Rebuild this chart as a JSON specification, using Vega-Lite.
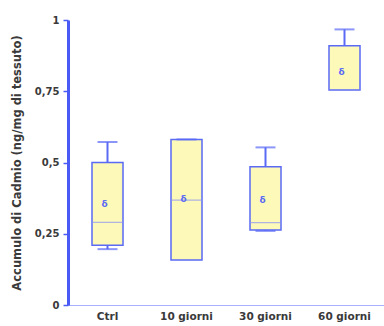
{
  "$schema": "https://vega.github.io/schema/vega-lite/v6.json",
  "width": 316,
  "height": 285,
  "autosize": "none",
  "padding": {"left": 68, "top": 20, "right": 0, "bottom": 21},
  "background": "white",
  "config": {"view": {"stroke": null}, "font": "DejaVu Sans"},
  "data": {"values": [
    {"gruppo": "Ctrl", "min": 0.196, "q1": 0.21, "median": 0.29, "q3": 0.5, "max": 0.572, "mean": 0.354},
    {"gruppo": "10 giorni", "min": null, "q1": 0.158, "median": 0.368, "q3": 0.581, "max": 0.581, "mean": 0.372},
    {"gruppo": "30 giorni", "min": 0.26, "q1": 0.263, "median": 0.289, "q3": 0.485, "max": 0.553, "mean": 0.368},
    {"gruppo": "60 giorni", "min": null, "q1": 0.754, "median": 0.754, "q3": 0.91, "max": 0.967, "mean": 0.819}
  ]},
  "encoding": {
    "x": {"field": "gruppo", "type": "nominal", "sort": null,
      "scale": {"domain": ["Ctrl", "10 giorni", "30 giorni", "60 giorni"], "paddingInner": 0, "paddingOuter": 0},
      "axis": {"title": null, "labelAngle": 0, "ticks": false, "domainColor": "#a8b0ff", "domainWidth": 1.2,
        "labelFont": "DejaVu Sans", "labelFontWeight": "bold", "labelFontSize": 10.5, "labelColor": "#3a3a3a", "labelPadding": 6}}
  },
  "layer": [
    {"mark": {"type": "rule", "color": "#5a6af5", "strokeWidth": 2},
     "encoding": {"y": {"field": "min", "type": "quantitative"}, "y2": {"field": "q1"}}},
    {"mark": {"type": "rule", "color": "#5a6af5", "strokeWidth": 2},
     "encoding": {"y": {"field": "q3", "type": "quantitative"}, "y2": {"field": "max"}}},
    {"mark": {"type": "bar", "size": 31, "fill": "#fdf9b8", "stroke": "#5a6af5", "strokeWidth": 1.5},
     "encoding": {
       "y": {"field": "q1", "type": "quantitative",
         "scale": {"domain": [0, 1], "nice": false, "zero": true},
         "axis": {"title": "Accumulo di Cadmio (ng/mg di tessuto)", "values": [0, 0.25, 0.5, 0.75, 1],
           "labelExpr": "replace(format(datum.value, ''), '.', ',')",
           "grid": false, "domainColor": "#4a5af5", "domainWidth": 3, "tickColor": "#4a5af5", "tickSize": 5, "tickWidth": 1.5,
           "labelFont": "DejaVu Sans", "labelFontWeight": "bold", "labelFontSize": 10, "labelColor": "#3a3a3a", "labelPadding": 4,
           "titleFont": "DejaVu Sans", "titleFontWeight": "bold", "titleFontSize": 11.5, "titleColor": "#3a3a3a", "titlePadding": 12}},
       "y2": {"field": "q3"}}},
    {"mark": {"type": "tick", "color": "#8892f5", "size": 31, "thickness": 1.2},
     "encoding": {"y": {"field": "median", "type": "quantitative"}}},
    {"mark": {"type": "tick", "color": "#5a6af5", "size": 20, "thickness": 2},
     "encoding": {"y": {"field": "max", "type": "quantitative"}}},
    {"mark": {"type": "tick", "color": "#5a6af5", "size": 20, "thickness": 2},
     "encoding": {"y": {"field": "min", "type": "quantitative"}}},
    {"mark": {"type": "text", "text": "δ", "color": "#5a6af5", "fontSize": 9, "fontWeight": "bold", "font": "DejaVu Sans", "baseline": "middle", "dx": -3},
     "encoding": {"y": {"field": "mean", "type": "quantitative"}}}
  ]
}
